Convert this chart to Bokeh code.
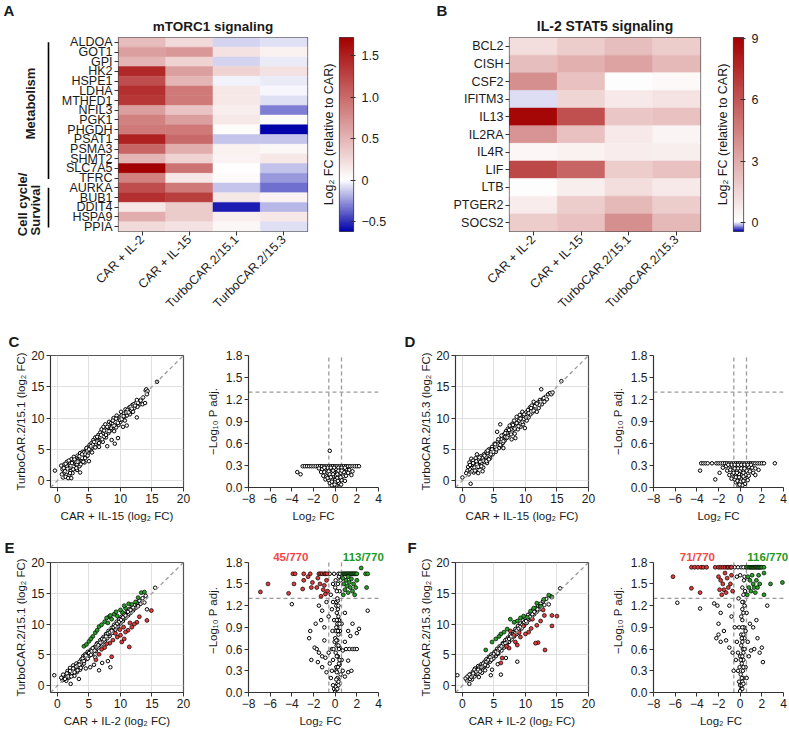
import math
import numpy as np
from bokeh.plotting import figure
from bokeh.layouts import row, column
from bokeh.models import (Range1d, FactorRange, LinearColorMapper, FixedTicker, LinearAxis,
                          Label, NumeralTickFormatter, ColumnDataSource, Slope)
from bokeh.transform import transform
from bokeh.embed import file_html
from bokeh.resources import INLINE

FONT = "Liberation Sans"
TXT = "#1a1a1a"
AX = "#333333"

# ---------------- DATA ----------------
conditions = ["CAR + IL-2", "CAR + IL-15", "TurboCAR.2/15.1", "TurboCAR.2/15.3"]

mtor_genes = ["ALDOA", "GOT1", "GPI", "HK2", "HSPE1", "LDHA", "MTHFD1", "NFIL3", "PGK1", "PHGDH",
              "PSAT1", "PSMA3", "SHMT2", "SLC7A5", "TFRC", "AURKA", "BUB1", "DDIT4", "HSPA9", "PPIA"]
mtor_il2 = [0.45, 0.65, 0.5, 1.45, 1.2, 1.4, 1.35, 0.65, 0.85, 0.9, 1.5, 1.05, 0.5, 1.72, 0.85, 1.2, 1.4, 0.15, 0.55, 0.25]
mtor_il15 = [0.25, 0.7, 0.3, 0.65, 0.5, 0.9, 0.9, 0.4, 0.65, 0.9, 1.0, 0.55, 0.3, 0.95, 0.15, 0.9, 1.3, 0.35, 0.35, 0.2]
mtor_t151 = [-0.1, 0.2, -0.1, 0.3, -0.03, 0.15, 0.15, 0.12, 0.15, 0.02, -0.14, 0.1, 0.08, 0.0, 0.03, -0.14, 0.15, -0.55, 0.12, 0.05]
mtor_t153 = [-0.08, 0.1, -0.05, 0.2, -0.05, -0.02, -0.08, -0.31, 0.03, -0.62, -0.14, 0.05, 0.15, -0.15, -0.25, -0.35, 0.08, -0.18, 0.15, -0.08]
mtor_groups = [("Metabolism", 0, 15), ("Cell cycle/|Survival", 15, 20)]
mtor_lim = (-0.62, 1.72)
mtor_ticks = [-0.5, 0, 0.5, 1.0, 1.5]

stat_genes = ["BCL2", "CISH", "CSF2", "IFITM3", "IL13", "IL2RA", "IL4R", "LIF", "LTB", "PTGER2", "SOCS2"]
stat_il2 = [1.2, 2.3, 4.0, -0.05, 8.8, 3.8, 0.3, 6.5, 0.1, 0.7, 1.8]
stat_il15 = [1.8, 2.8, 2.2, 1.5, 6.2, 2.2, 0.5, 5.5, 0.6, 1.8, 2.2]
stat_t151 = [2.3, 3.3, 0.1, 0.8, 2.0, 0.8, 0.7, 1.8, 1.2, 2.5, 4.0]
stat_t153 = [1.8, 2.5, 0.2, 1.0, 2.2, 0.4, 0.6, 2.2, 0.8, 1.8, 2.5]
stat_lim = (-0.45, 9.05)
stat_ticks = [0, 3, 6, 9]

# scatter C: CAR+IL-15 (x) vs TurboCAR.2/15.1 (y)
c_pts = [(-0.4,1.6),(0.6,2.4),(0.8,1.8),(0.9,0.5),(1.0,1.2),(1.1,2.6),(1.3,0.6),(1.4,1.9),(1.5,3.0),(1.6,1.4),
         (1.7,0.4),(1.8,2.2),(1.9,0.9),(2.0,2.8),(2.1,1.6),(2.2,0.4),(2.2,3.4),(2.3,2.1),(2.4,1.2),(2.5,2.6),
         (2.6,3.8),(2.7,1.9),(2.8,2.9),(2.9,2.4),(3.0,3.3),(3.1,1.7),(3.2,4.0),(3.3,2.8),(3.4,3.5),(3.5,2.3),
         (3.6,1.3),(3.6,4.4),(3.7,3.1),(3.8,3.8),(4.0,4.6),(4.1,3.4),(4.2,4.1),(4.3,2.9),(4.5,4.9),(4.6,3.9),
         (4.8,5.3),(4.9,4.4),(5.0,3.1),(5.1,5.7),(5.3,4.8),(5.4,6.0),(5.5,5.2),(5.7,6.5),(5.8,5.5),(6.0,6.9),
         (6.1,5.9),(6.3,6.4),(6.5,7.3),(6.6,5.4),(6.8,7.7),(6.9,6.6),(7.0,8.2),(7.1,7.1),(7.2,6.2),(7.3,8.6),
         (7.5,7.6),(7.6,9.0),(7.7,6.9),(7.9,5.5),(8.0,8.4),(8.1,7.6),(8.2,9.4),(8.4,8.0),(8.5,9.2),(8.6,6.5),
         (8.7,8.6),(8.9,10.0),(9.0,7.9),(9.1,5.9),(9.2,9.1),(9.3,8.5),(9.4,10.4),(9.5,9.6),(9.6,6.8),(9.7,8.9),
         (9.9,10.2),(10.0,9.4),(10.1,11.0),(10.3,10.0),(10.4,8.6),(10.5,10.7),(10.7,9.6),(10.8,11.4),(11.0,10.4),(11.0,8.8),
         (11.2,11.0),(11.4,11.7),(11.5,10.6),(11.7,11.2),(11.9,12.1),(12.0,11.0),(12.2,11.6),(12.4,12.4),(12.6,10.1),(12.7,11.8),
         (12.9,12.7),(13.1,12.2),(13.3,13.0),(13.5,12.2),(13.6,13.3),(13.9,12.4),(14.0,14.4),(14.1,14.6),(14.3,14.3),(14.2,13.8),(15.8,15.8),
         (1.2,1.5),(1.5,2.3),(1.9,2.0),(2.1,2.4),(2.4,3.0),(2.6,2.2),(2.9,3.1),(3.1,2.6),(3.4,3.0),(3.6,3.6),
         (3.9,3.6),(4.2,4.5),(4.4,4.2),(4.7,4.7),(5.2,5.2),(5.6,5.8),(6.2,6.2),(6.4,6.9),(6.7,7.0),(7.2,7.5),
         (7.4,7.0),(7.8,8.0),(8.3,8.6),(8.8,9.1),(9.1,9.4),(9.8,9.9),(10.2,10.4),(10.6,10.2),(11.1,11.3),(11.6,11.8),
         (12.1,12.2),(12.8,12.4),(13.2,12.8),
         (0.7,1.0),(1.0,2.0),(1.3,2.7),(1.6,1.9),(1.8,3.2),(2.0,1.2),(2.3,2.8),(2.5,1.8),(2.7,3.4),(3.0,2.0),
         (3.2,3.0),(3.5,3.9),(3.7,2.6),(3.9,4.2),(4.1,3.0),(4.4,3.6),(4.6,5.2),(4.8,4.0),(5.0,5.0),(5.3,5.5),
         (5.5,4.5),(5.8,6.2),(6.0,5.3),(6.3,7.0),(6.6,6.0),(6.9,7.3),(7.1,6.6),(7.4,8.0),(7.7,7.3),(7.9,8.6),
         (8.2,7.9),(8.5,8.4),(8.8,9.6),(9.0,8.8),(9.3,9.9),(9.6,9.2),(9.9,9.7),(10.2,9.8),(10.5,10.3),(10.9,10.9),
         (11.3,10.9),(11.8,11.5),(12.3,12.0),(12.6,12.9)]

# scatter D: CAR+IL-15 (x) vs TurboCAR.2/15.3 (y)
d_pts = [(0.0,0.5),(1.1,2.9),(1.3,-0.5),(1.4,3.5),(0.8,1.6),(1.0,1.0),(1.5,2.0),(1.7,3.2),(1.8,1.3),(2.0,2.5),
         (2.1,3.6),(2.2,1.8),(2.4,2.9),(2.5,1.2),(2.6,3.3),(2.7,2.2),(2.9,3.9),(3.0,2.7),(3.1,3.4),(3.3,2.1),
         (3.4,4.2),(3.5,3.0),(3.7,3.7),(3.8,4.6),(3.9,2.8),(4.1,4.1),(4.2,5.0),(4.4,3.6),(4.5,4.6),(4.7,5.4),
         (4.8,4.2),(5.0,5.0),(5.1,5.9),(5.3,4.6),(5.4,5.5),(5.5,7.8),(5.6,6.2),(5.8,5.2),(6.0,9.0),(6.0,6.4),
         (6.1,5.6),(6.3,7.0),(6.4,6.0),(6.6,7.4),(6.7,6.4),(6.9,7.9),(7.0,6.8),(7.2,8.3),(7.3,7.2),(7.5,8.8),
         (7.6,7.6),(7.8,6.6),(7.9,9.1),(8.0,8.1),(8.2,9.6),(8.3,7.5),(8.5,8.8),(8.6,10.2),(8.8,8.2),(8.9,9.5),
         (9.1,10.5),(9.2,8.6),(9.4,9.9),(9.5,11.0),(9.6,9.0),(9.8,10.3),(9.9,8.4),(10.1,10.9),(10.2,9.6),(10.4,11.3),
         (10.5,10.1),(10.7,11.7),(10.8,10.6),(11.0,12.0),(11.1,10.9),(11.3,12.6),(11.4,11.4),(11.6,12.2),(11.8,11.0),(12.0,12.5),
         (12.1,11.6),(12.3,12.9),(12.5,14.6),(12.6,12.2),(12.8,13.0),(13.0,12.6),(13.2,13.4),(13.4,13.0),(13.6,13.8),(13.9,14.0),
         (14.1,13.8),(14.3,14.1),(15.7,15.9),(2.3,4.2),(3.2,1.5),(6.5,5.2),(8.4,6.8),
         (1.2,1.8),(1.6,2.6),(1.9,2.1),(2.3,2.6),(2.8,3.0),(3.2,3.6),(3.6,3.3),(4.0,4.4),(4.3,4.0),(4.6,5.0),
         (5.2,5.4),(5.7,5.8),(6.2,6.6),(6.8,7.0),(7.1,7.6),(7.7,8.2),(8.1,8.6),(8.7,9.0),(9.0,9.6),(9.7,9.8),
         (10.3,10.6),(10.9,11.1),(11.5,11.9),(12.2,12.1),(12.9,13.2),
         (0.6,1.2),(0.9,2.2),(1.2,2.5),(1.5,1.5),(1.7,2.8),(2.0,1.6),(2.2,3.1),(2.5,2.2),(2.7,3.7),(3.0,2.3),
         (3.3,3.2),(3.5,4.0),(3.8,3.1),(4.0,4.8),(4.2,3.4),(4.5,4.2),(4.7,5.0),(4.9,4.6),(5.2,5.8),(5.4,5.0),
         (5.7,6.6),(6.0,5.7),(6.2,7.2),(6.5,6.3),(6.8,7.6),(7.1,6.9),(7.4,8.1),(7.7,7.4),(8.0,8.9),(8.3,8.3),
         (8.6,9.2),(8.9,8.7),(9.2,9.9),(9.5,9.4),(9.8,10.6),(10.1,10.1),(10.5,10.8),(10.9,11.6),(11.3,11.2),(11.8,12.3),(12.4,12.6)]

# scatter E: CAR+IL-2 (x) vs TurboCAR.2/15.1 (y)
e_pts = [(-0.5,1.7),(0.8,0.9),(1.0,1.4),(1.3,1.8),(1.4,0.8),(1.6,2.4),(1.8,1.3),(2.0,2.9),(2.1,0.3),(2.2,1.9),
         (2.4,2.5),(2.5,3.3),(2.7,1.6),(2.8,2.8),(3.0,3.6),(3.1,2.2),(3.2,3.0),(3.4,1.1),(3.5,3.9),(3.6,2.6),
         (3.8,4.3),(3.9,3.3),(4.1,4.8),(4.2,3.6),(4.4,5.1),(4.6,4.3),(4.8,5.5),(5.0,4.8),(5.2,3.0),(5.3,5.8),
         (5.5,5.1),(5.8,3.4),(5.9,6.3),(6.1,5.6),(6.3,6.9),(6.5,6.2),(6.6,2.5),(6.8,7.4),(7.0,6.7),(7.1,3.7),
         (7.3,7.9),(7.5,7.2),(7.7,8.4),(7.9,7.7),(8.1,8.9),(8.3,8.1),(8.4,3.0),(8.6,9.4),(8.8,8.6),(9.0,9.9),
         (9.2,9.1),(9.4,10.4),(9.6,9.6),(9.8,10.8),(10.0,10.1),(10.2,11.2),(10.4,10.5),(10.6,11.6),(10.8,11.0),(11.0,12.0),
         (11.2,11.4),(11.4,12.4),(11.6,11.8),(11.8,12.8),(12.0,12.2),(12.2,13.1),(12.4,12.6),(12.6,13.5),(12.8,12.9),(13.0,13.8),
         (13.2,13.3),(13.5,14.2),(13.8,13.5),(14.2,12.4),(14.0,14.6),(15.5,15.9),(8.0,4.0),(6.0,4.6),(4.5,2.8),
         (1.1,1.1),(1.5,1.6),(1.9,2.2),(2.3,2.1),(2.6,2.9),(2.9,2.4),(3.3,3.4),(3.7,3.5),(4.0,4.0),(4.3,4.6),
         (4.7,4.8),(5.1,5.4),(5.4,5.6),(5.7,6.0),(6.2,6.3),(6.7,6.8),(7.2,7.4),(7.6,7.8),(8.2,8.4),(8.7,9.0),
         (9.3,9.5),(9.9,10.3),(10.5,10.9),(11.3,11.7),(12.1,12.5),
         (0.6,1.3),(0.9,1.8),(1.2,1.1),(1.5,2.0),(1.7,1.5),(2.0,2.4),(2.2,1.5),(2.5,2.8),(2.7,2.2),(3.0,3.1),
         (3.2,2.5),(3.5,3.4),(3.7,2.9),(4.0,4.4),(4.2,4.0),(4.5,4.9),(4.8,4.4),(5.0,5.3),(5.3,5.0),(5.6,6.1),
         (5.9,5.7),(6.2,6.7),(6.5,6.6),(6.8,7.0),(7.1,7.6),(7.4,7.5),(7.7,8.0),(8.0,8.5),(8.3,8.7),(8.6,8.9),
         (8.9,9.5),(9.2,9.7),(9.5,10.1),(9.8,10.4),(10.1,10.7),(10.4,11.1),(10.8,11.4),(11.2,12.0),(11.6,12.3),(12.0,12.7)]
e_red = [(14.9,12.2),(14.2,10.6),(12.6,10.3),(11.4,6.3),(10.6,7.6),(10.2,7.1),(8.6,4.7),(6.1,4.2),(11.8,9.5),(11.2,9.0),
         (10.8,8.7),(10.0,8.2),(9.5,7.9),(9.2,8.5),(8.8,7.4),(8.3,6.9),(7.8,6.8),(7.5,6.2),(12.2,10.0),(11.5,10.2),
         (13.0,11.2),(9.9,9.1),(10.5,9.5),(7.0,5.9),(6.6,5.1)]
e_green = [(13.3,15.1),(13.8,15.2),(11.3,13.3),(10.3,11.9),(8.2,11.2),(6.6,9.6),(5.6,8.0),(4.2,6.4),(5.0,7.2),(6.0,8.6),
           (7.0,9.9),(7.5,10.4),(8.0,10.2),(8.6,10.8),(9.0,11.6),(9.5,11.3),(10.0,12.3),(10.8,12.6),(11.8,13.2),(12.4,13.6),
           (12.8,14.3),(7.8,11.0),(6.3,9.0),(5.3,7.6),(9.3,12.0),(4.6,6.7),(8.4,11.4),(10.6,13.0)]

# scatter F: CAR+IL-2 (x) vs TurboCAR.2/15.3 (y)
f_pts = [(-0.8,1.7),(0.7,0.9),(1.0,1.3),(1.1,0.3),(1.3,1.9),(1.5,1.0),(1.7,2.3),(1.9,1.5),(2.0,2.8),(2.2,1.9),
         (2.3,2.5),(2.5,3.2),(2.6,1.4),(2.8,2.7),(3.0,3.5),(3.1,2.1),(3.3,3.0),(3.5,3.9),(3.6,2.5),(3.8,4.3),
         (4.0,3.2),(4.2,4.7),(4.4,3.9),(4.5,1.7),(4.6,5.1),(4.7,2.6),(4.9,4.4),(5.1,5.5),(5.3,4.8),(5.5,6.0),
         (5.7,5.2),(5.9,6.4),(6.1,1.8),(6.2,5.7),(6.4,6.9),(6.6,6.2),(6.8,7.4),(7.0,6.6),(7.2,7.8),(7.4,7.1),
         (7.6,8.3),(7.8,7.5),(8.0,8.7),(8.2,8.0),(8.4,9.2),(8.6,8.4),(8.7,3.9),(8.8,9.7),(9.0,8.9),(9.2,10.1),
         (9.4,9.3),(9.6,10.6),(9.8,9.8),(10.0,11.0),(10.2,10.2),(10.4,11.5),(10.6,10.7),(10.8,11.8),(11.0,11.1),(11.2,12.3),
         (11.4,11.6),(11.6,12.6),(11.8,12.0),(12.0,13.0),(12.2,12.4),(12.4,13.3),(12.6,12.8),(12.8,13.7),(13.0,13.1),(13.3,14.1),
         (13.7,13.2),(14.0,14.5),(15.5,15.8),(6.9,4.5),(5.6,3.5),
         (1.2,1.1),(1.6,1.7),(2.1,2.2),(2.4,2.0),(2.7,3.0),(3.2,3.3),(3.5,3.2),(3.9,3.8),(4.3,4.3),(4.8,4.9),
         (5.2,5.1),(5.6,5.7),(6.0,6.1),(6.5,6.5),(7.1,7.2),(7.5,7.7),(8.1,8.3),(8.5,8.8),(9.1,9.4),(9.7,10.1),
         (10.3,10.6),(10.9,11.3),(11.5,11.9),
         (0.5,1.2),(0.8,1.5),(1.1,1.8),(1.4,1.4),(1.7,2.0),(1.9,2.6),(2.2,2.3),(2.5,2.6),(2.8,2.3),(3.0,3.0),
         (3.3,3.6),(3.6,3.4),(3.8,3.9),(4.1,4.2),(4.4,4.6),(4.6,4.2),(5.0,5.2),(5.3,5.5),(5.6,5.3),(5.9,6.0),
         (6.2,6.4),(6.5,6.8),(6.8,6.9),(7.1,7.5),(7.4,7.6),(7.7,8.0),(8.0,8.4),(8.3,8.5),(8.6,9.0),(8.9,9.3),
         (9.2,9.6),(9.5,9.9),(9.8,10.3),(10.1,10.5),(10.4,10.9),(10.7,11.2),(11.1,11.6),(11.4,12.0),(11.9,12.4),(12.3,12.9)]
f_red = [(15.0,11.3),(14.2,11.4),(13.0,11.4),(12.8,12.3),(14.2,9.7),(13.1,5.8),(12.0,7.0),(11.6,6.9),(10.5,8.7),(9.2,7.9),
         (8.4,7.1),(7.4,6.1),(6.3,4.5),(6.1,3.7),(7.6,8.9),(8.2,8.2),(9.7,9.7),(11.1,10.8),(11.8,9.8),(8.7,6.6),
         (10.0,8.4),(10.9,9.3),(9.0,8.6),(7.0,6.4),(12.4,10.5)]
f_green = [(13.7,14.7),(14.2,14.4),(12.4,12.9),(11.3,12.6),(8.7,10.5),(6.1,8.4),(3.7,5.8),(7.1,9.2),(8.2,10.3),(9.7,11.3),
           (10.8,12.1),(6.6,8.7),(5.3,7.6),(10.3,11.1),(7.6,10.8),(4.7,7.1),(9.2,11.0),(11.8,13.4),(12.9,14.0),(5.8,8.0)]

# volcano C
cv_pts = [(-3.0,0.29),(-2.8,0.29),(-2.6,0.29),(-2.4,0.29),(-2.2,0.29),(-2.0,0.29),(-1.8,0.29),(-1.6,0.29),(-1.4,0.29),
          (-1.2,0.29),(-1.0,0.29),(-0.8,0.29),(-0.6,0.29),(-0.4,0.29),(-0.2,0.29),(0.0,0.29),(0.2,0.29),(0.4,0.29),
          (0.6,0.29),(0.8,0.29),(1.0,0.29),(1.2,0.29),(1.4,0.29),(1.6,0.29),(1.8,0.29),(2.0,0.29),(2.2,0.29),
          (-0.5,0.50),(-3.5,0.21),(-3.2,0.18),
          (-1.5,0.26),(-1.2,0.25),(-0.9,0.26),(-0.6,0.25),(-0.3,0.26),(0.1,0.25),(0.4,0.26),(0.7,0.25),(1.0,0.25),
          (1.3,0.24),(1.6,0.22),(1.2,0.2),(1.5,0.17),
          (-1.3,0.21),(-1.0,0.21),(-0.7,0.2),(-0.4,0.21),(-0.1,0.2),(0.2,0.21),(0.5,0.2),(0.8,0.21),(1.0,0.16),
          (-1.1,0.16),(-0.8,0.15),(-0.5,0.16),(-0.2,0.15),(0.1,0.16),(0.4,0.15),(0.7,0.15),
          (-0.9,0.11),(-0.6,0.1),(-0.3,0.11),(0.0,0.1),(0.3,0.11),(0.6,0.1),(0.9,0.09),
          (-0.5,0.06),(-0.2,0.06),(0.1,0.05),(0.35,0.06),(0.55,0.04),
          (-0.15,0.02),(0.05,0.01),(0.2,0.02),(-0.3,0.03),
          (-0.7,0.27),(-0.4,0.27),(-0.1,0.27),(0.3,0.27),(0.6,0.27),(0.9,0.27),(-1.0,0.27),(-0.6,0.22),(-0.2,0.23),
          (0.3,0.23),(0.6,0.23),(-0.5,0.18),(-0.2,0.18),(0.2,0.18),(-0.7,0.13),(-0.4,0.14),(0.2,0.13),(0.5,0.14),
          (-0.3,0.08),(0.0,0.07),(0.25,0.09),(0.1,0.03),(-0.05,0.04)]

# volcano D
dv_pts = [(-3.6,0.33),(-3.4,0.33),(-3.2,0.33),(-3.0,0.33),(-2.6,0.33),(-2.2,0.33),(-2.0,0.33),(-1.8,0.33),(-1.6,0.33),
          (-1.4,0.33),(-1.2,0.33),(-1.0,0.33),(-0.8,0.33),(-0.6,0.33),(-0.4,0.33),(-0.2,0.33),(0.0,0.33),(0.2,0.33),
          (0.4,0.33),(0.6,0.33),(0.8,0.33),(1.0,0.33),(1.2,0.33),(1.4,0.33),(1.6,0.33),(1.8,0.33),(2.0,0.33),(2.2,0.33),(3.2,0.33),
          (-3.7,0.23),(-2.3,0.11),(-1.9,0.2),(-1.6,0.27),(-1.3,0.29),(-1.0,0.3),(-0.7,0.29),(-0.4,0.3),(-0.1,0.29),
          (0.2,0.3),(0.5,0.29),(0.8,0.28),(1.1,0.27),(1.4,0.26),(1.7,0.24),
          (-1.2,0.23),(-0.9,0.24),(-0.6,0.23),(-0.3,0.24),(0.0,0.23),(0.3,0.24),(0.6,0.23),(0.9,0.22),(1.2,0.2),(1.4,0.17),
          (-1.0,0.17),(-0.7,0.18),(-0.4,0.17),(-0.1,0.18),(0.2,0.17),(0.5,0.17),(0.8,0.16),
          (-0.8,0.12),(-0.5,0.11),(-0.2,0.12),(0.1,0.11),(0.4,0.12),(0.7,0.1),
          (-0.4,0.07),(-0.1,0.06),(0.2,0.07),(0.45,0.05),
          (-0.15,0.02),(0.05,0.01),(0.2,0.03),
          (-0.8,0.31),(-0.5,0.31),(-0.2,0.31),(0.1,0.31),(0.4,0.31),(0.7,0.31),(1.0,0.31),(-1.1,0.31),(-0.5,0.26),
          (-0.2,0.26),(0.1,0.26),(0.4,0.26),(-0.6,0.2),(-0.3,0.2),(0.3,0.2),(-0.4,0.14),(-0.1,0.14),(0.3,0.15),
          (-0.25,0.09),(0.05,0.08),(0.3,0.09),(-0.05,0.04)]

# volcano E
ev_pts = [(0.0,0.02),(-0.1,0.05),(0.1,0.04),(0.05,0.08),(-0.2,0.1),(0.2,0.12),(-0.4,0.2),(0.3,0.18),(0.5,0.25),
          (-0.3,0.3),(0.1,0.35),(0.7,0.3),(-1.2,0.35),(1.2,0.28),(1.5,0.3),(-0.8,0.28),(0.9,0.22),(-0.5,0.4),(0.4,0.38),
          (-1.9,0.62),(-1.7,0.6),(-1.5,0.55),(-1.2,0.5),(-0.9,0.48),(-0.6,0.55),(-0.3,0.6),(0.2,0.5),(0.4,0.62),
          (0.7,0.58),(1.0,0.6),(1.3,0.6),(1.6,0.6),(1.8,0.6),(2.0,0.6),(-2.4,0.75),(-1.0,0.72),(0.9,0.7),(1.4,0.78),
          (0.0,0.75),(-2.2,0.45),(-1.6,0.42),(1.2,0.44),(0.6,0.45),(-0.2,0.45),
          (-2.3,0.85),(-1.8,0.95),(-1.3,1.0),(-1.0,0.9),(-0.6,1.05),(-0.3,1.15),(0.1,1.2),(0.3,1.05),(0.6,0.95),
          (0.9,1.1),(1.2,0.85),(1.6,0.95),(2.0,0.82),(2.2,0.88),(-1.5,1.2),(-0.8,1.25),(3.0,1.13),(-4.0,1.22),
          (-1.2,1.13),(0.2,0.9),(-0.1,1.0),(0.05,0.85),(0.15,1.1),
          (0.2,0.2),(0.25,0.5),(0.15,0.65),(0.3,0.8),(0.2,0.95),(0.25,1.15),(0.1,0.3),(0.05,0.55),(-0.05,0.7),(0.35,0.4),
          (0.1,1.25),(-0.4,1.35),(-0.2,1.5),(0.3,1.64),(0.4,1.4),(-0.5,1.64),(0.5,1.55),(0.0,1.45),
          (0.3,0.1),(0.15,0.28),(0.35,0.6),(0.2,0.72),(0.1,0.9),(0.35,1.0),(0.25,1.27),(-0.15,0.6),(-0.25,0.85),(0.45,0.85),
          (0.2,0.05),(0.3,0.15),(0.1,0.18),(0.25,0.35),(0.4,0.45),(0.15,0.5),(0.3,0.65),(0.1,0.72),(0.25,0.85),(0.4,0.95),
          (0.15,1.0),(0.3,1.2),(0.2,1.3),(0.15,1.4),(0.25,1.5),(0.35,1.6),(0.45,1.64),(-0.1,1.64),(0.05,1.55),(-0.2,1.25)]
ev_red = [(-3.9,1.64),(-3.7,1.64),(-2.9,1.64),(-2.3,1.64),(-1.5,1.64),(-1.35,1.64),(-1.2,1.64),(-1.0,1.64),(-0.9,1.64),
          (-0.75,1.64),(-6.2,1.5),(-6.9,1.39),(-4.3,1.37),(-3.8,1.5),(-2.9,1.55),(-3.0,1.43),(-2.1,1.52),(-2.2,1.45),
          (-1.7,1.45),(-1.4,1.5),(-1.1,1.42),(-0.9,1.36),(-1.3,1.33),(-0.8,1.55),(-1.6,1.58),(-1.0,1.48),(-0.7,1.4),(-2.5,1.6)]
ev_green = [(0.7,1.64),(0.8,1.64),(0.9,1.64),(1.0,1.64),(1.1,1.64),(1.2,1.64),(1.3,1.64),(1.4,1.64),(1.5,1.64),
            (1.6,1.64),(1.7,1.64),(1.8,1.64),(1.9,1.64),(2.0,1.64),(2.4,1.72),(2.8,1.64),(3.0,1.64),(2.9,1.45),
            (0.7,1.58),(0.8,1.5),(0.9,1.42),(1.0,1.55),(1.1,1.47),(1.2,1.38),(1.3,1.52),(1.4,1.45),(1.5,1.57),
            (1.6,1.4),(1.7,1.5),(1.8,1.35),(2.0,1.55),(0.75,1.35),(1.9,1.45),(1.2,1.6)]

# volcano F
fv_pts = [(-5.8,1.24),(-3.7,1.16),(2.5,1.2),(-2.4,1.23),(-2.1,1.2),(-1.8,1.1),(-2.0,0.95),(-1.5,0.85),(-2.2,0.75),
          (-2.0,0.8),(-1.8,0.7),(-1.3,0.72),(-1.0,0.62),(-0.7,0.55),(-0.4,0.45),(-0.2,0.3),(0.0,0.1),(0.1,0.05),
          (-0.1,0.15),(0.3,0.2),(0.5,0.35),(0.8,0.5),(1.0,0.58),(1.3,0.6),(1.6,0.75),(2.1,0.42),(1.8,0.55),(1.2,0.9),
          (0.9,0.95),(1.5,1.0),(2.0,0.62),(0.6,1.1),(0.3,1.25),(0.2,1.0),(0.1,0.8),(0.25,0.6),(0.15,0.4),(-0.3,0.7),
          (-0.5,0.9),(-0.8,1.05),(-1.0,1.2),(0.4,0.75),(0.0,0.5),(0.35,1.55),(-0.3,1.6),(0.1,1.73),(-0.5,1.73),
          (0.45,1.4),(0.05,0.25),(-0.05,0.35),(0.2,0.15),(0.0,0.02),(0.1,0.65),(-0.1,0.9),(0.2,1.15),(0.3,0.45),
          (-0.2,0.55),(0.5,0.85),(0.7,0.7),(-0.6,0.3),(0.6,0.2),
          (0.15,0.1),(0.25,0.3),(0.05,0.45),(0.3,0.55),(0.15,0.75),(0.35,0.9),(0.1,1.05),(0.4,1.2),(-0.15,1.3),
          (0.2,0.05),(0.3,0.12),(0.15,0.2),(0.3,0.35),(0.2,0.5),(0.4,0.6),(0.2,0.7),(0.3,0.8),(0.2,0.9),(0.3,1.1),
          (0.2,1.25),(0.3,1.35),(0.2,1.45),(0.4,1.6),(0.5,1.73),(0.3,1.73),(-0.2,1.73),(0.0,1.62)]
fv_red = [(-4.5,1.73),(-4.2,1.73),(-3.9,1.73),(-3.6,1.73),(-3.4,1.73),(-3.1,1.73),(-2.3,1.73),(-2.0,1.73),(-1.8,1.73),
          (-1.6,1.73),(-1.4,1.73),(-1.2,1.73),(-1.1,1.73),(-0.9,1.73),(-0.8,1.73),(-6.2,1.6),(-4.5,1.44),(-3.7,1.38),
          (-2.0,1.6),(-1.8,1.55),(-1.6,1.5),(-1.5,1.42),(-1.3,1.38),(-1.1,1.45),(-0.9,1.5),(-0.8,1.62),(-1.9,1.42),
          (-1.7,1.35),(-1.2,1.58),(-0.7,1.4),(-1.4,1.65)]
fv_green = [(0.6,1.73),(0.8,1.73),(0.9,1.73),(1.0,1.73),(1.1,1.73),(1.2,1.73),(1.3,1.73),(1.4,1.73),(1.5,1.73),
            (1.6,1.73),(1.7,1.73),(1.8,1.73),(1.9,1.73),(2.0,1.73),(2.2,1.73),(2.2,1.65),(2.8,1.5),(3.9,1.52),
            (2.2,1.35),(0.7,1.6),(0.8,1.45),(0.9,1.55),(1.0,1.4),(1.1,1.62),(1.2,1.5),(1.3,1.45),(1.4,1.38),
            (1.5,1.55),(1.6,1.45),(1.8,1.5),(0.65,1.35),(1.7,1.62)]

count_E = ("45/770", "113/770")
count_E_x = (-4.1, 2.6)
count_F = ("71/770", "116/770")
count_F_x = (-3.95, 2.55)
FC_CUT = 0.585
P_CUT = 1.3
VX = (-8, 4)
VY = (0, 1.8)

RED_FILL = "#e33b3b"
GREEN_FILL = "#27a327"
RED_TXT = "#f24848"
GREEN_TXT = "#1f9a1f"


# ---------------- HELPERS ----------------
def div_palette(vmin, vmax, n=256):
    neg = (0, 0, 170)
    pos = (163, 0, 0)
    out = []
    for i in range(n):
        v = vmin + (i + 0.5) * (vmax - vmin) / n
        if v < 0:
            t, c = min(1.0, v / vmin), neg
        else:
            t, c = min(1.0, v / vmax), pos
        rgb = [round(255 + (c[k] - 255) * t) for k in range(3)]
        out.append("#%02x%02x%02x" % tuple(rgb))
    return out


def style_axis(ax, size="12px"):
    ax.major_label_text_font = FONT
    ax.major_label_text_font_size = size
    ax.major_label_text_color = TXT
    ax.axis_label_text_font = FONT
    ax.axis_label_text_font_size = "11.5px"
    ax.axis_label_text_font_style = "normal"
    ax.axis_label_text_color = TXT
    ax.axis_line_color = AX
    ax.major_tick_line_color = AX
    ax.minor_tick_line_color = None
    ax.major_tick_out = 4
    ax.major_tick_in = 0


def pixel_fig(width, height):
    # a blank canvas whose data units are pixels, y measured from the bottom
    p = figure(width=width, height=height, x_range=Range1d(0, width), y_range=Range1d(0, height),
               min_border_left=0, min_border_right=0, min_border_top=0, min_border_bottom=0,
               x_axis_location=None, y_axis_location=None, toolbar_location=None,
               output_backend="svg", title=None, frame_align=False)
    p.grid.visible = False
    p.outline_line_color = None
    return p


def add_text(p, txt, x, y, size="13px", bold=True, angle=0.0, align="center", color=TXT):
    p.add_layout(Label(x=x, y=y, text=txt, angle=angle, text_font=FONT, text_font_size=size,
                       text_font_style="bold" if bold else "normal", text_color=color,
                       text_align=align, text_baseline="middle"))


ROW1_H, ROW1_T, ROW1_B = 320, 37, 89
ROW1_FH = ROW1_H - ROW1_T - ROW1_B


def heatmap(genes, cols_vals, lim, width, left, right, title, title_size):
    xs, ys, vs = [], [], []
    for cname, vals in zip(conditions, cols_vals):
        for g, v in zip(genes, vals):
            xs.append(cname); ys.append(g); vs.append(v)
    src = ColumnDataSource(dict(x=xs, y=ys, v=vs))
    mapper = LinearColorMapper(palette=div_palette(*lim), low=lim[0], high=lim[1])
    p = figure(width=width, height=ROW1_H, x_range=FactorRange(*conditions),
               y_range=FactorRange(*genes[::-1]), min_border_left=left, min_border_right=right,
               min_border_top=ROW1_T, min_border_bottom=ROW1_B, toolbar_location=None,
               output_backend="svg", title=title, frame_align=False)
    p.rect(x="x", y="y", width=1, height=1, source=src, fill_color=transform("v", mapper),
           line_color=transform("v", mapper), line_width=0.5)
    p.grid.visible = False
    p.outline_line_color = "#444444"
    p.outline_line_width = 1.2
    p.title.text_font = FONT
    p.title.text_font_size = title_size
    p.title.text_font_style = "bold"
    p.title.text_color = TXT
    p.title.align = "center"
    p.title.standoff = 7
    for ax in p.axis:
        style_axis(ax, "12.5px")
        ax.axis_line_color = None
        ax.major_label_standoff = 2
    p.xaxis.major_label_orientation = math.pi / 4
    return p, mapper


def colorbar(mapper, lim, ticks, width, left, right):
    p = figure(width=width, height=ROW1_H, x_range=Range1d(0, 1), y_range=Range1d(*lim),
               min_border_left=left, min_border_right=right, min_border_top=ROW1_T,
               min_border_bottom=ROW1_B, y_axis_location="right", x_axis_location=None,
               toolbar_location=None, output_backend="svg", title=None, frame_align=False)
    grad = np.linspace(lim[0], lim[1], 400).reshape(-1, 1)
    p.image(image=[grad], x=0, y=lim[0], dw=1, dh=lim[1] - lim[0], color_mapper=mapper)
    p.grid.visible = False
    p.outline_line_color = "#444444"
    p.outline_line_width = 1.2
    ax = p.yaxis[0]
    style_axis(ax, "12.5px")
    ax.ticker = FixedTicker(ticks=ticks)
    ax.major_tick_in = 3
    ax.major_tick_out = 2
    ax.axis_line_color = None
    ax.major_label_standoff = 6
    ax.major_label_overrides = {float(t): (("−" + str(abs(t))) if t < 0 else (str(t) if t != 0 else "0")) for t in ticks}
    lab = LinearAxis(ticker=FixedTicker(ticks=[]), axis_label="Log₂ FC (relative to CAR)")
    style_axis(lab)
    lab.axis_label_text_font_size = "12.5px"
    lab.axis_line_color = None
    lab.major_label_text_font_size = "0px"
    lab.axis_label_standoff = 4
    p.add_layout(lab, "left")
    return p


def set_letter(p, txt, offset, standoff):
    p.title.text = txt
    p.title.align = "left"
    p.title.offset = offset
    p.title.standoff = standoff
    p.title.text_font = FONT
    p.title.text_font_size = "15px"
    p.title.text_font_style = "bold"
    p.title.text_color = TXT


def scatter_fig(width, height, left, right, top, bottom, pts, xlabel, ylabel, reds=None, greens=None):
    p = figure(width=width, height=height, x_range=Range1d(-1.1, 20), y_range=Range1d(-1.1, 20),
               min_border_left=left, min_border_right=right, min_border_top=top, min_border_bottom=bottom,
               toolbar_location=None, output_backend="svg", frame_align=False)
    p.xaxis.ticker = FixedTicker(ticks=[0, 5, 10, 15, 20])
    p.yaxis.ticker = FixedTicker(ticks=[0, 5, 10, 15, 20])
    p.grid.grid_line_color = "#e0e0e0"
    p.grid.grid_line_width = 1
    p.outline_line_color = "#555555"
    p.outline_line_width = 1.2
    for ax in p.axis:
        style_axis(ax)
        ax.major_label_standoff = 2
    p.xaxis.axis_label = xlabel
    p.yaxis.axis_label = ylabel
    p.xaxis.axis_label_standoff = 4
    p.yaxis.axis_label_standoff = 1
    x, y = zip(*pts)
    p.scatter(list(x), list(y), size=3.5, fill_color="white", line_color="black", line_width=1.0)
    for grp, col in ((reds, RED_FILL), (greens, GREEN_FILL)):
        if grp:
            gx, gy = zip(*grp)
            p.scatter(list(gx), list(gy), size=3.9, fill_color=col, line_color="black", line_width=0.7)
    p.add_layout(Slope(gradient=1, y_intercept=0, line_color="#9a9a9a", line_dash="4 3", line_width=1.3))
    return p


def volcano_fig(width, height, left, right, top, bottom, pts, extra_top=0, extra_right=0,
                reds=None, greens=None, counts=None, cx=None):
    fh = height - top - bottom
    fw = width - left - right
    y_end = VY[1] + extra_top * (VY[1] - VY[0]) / (fh - extra_top)
    x_end = VX[1] + extra_right * (VX[1] - VX[0]) / (fw - extra_right)
    p = figure(width=width, height=height, x_range=Range1d(VX[0], x_end), y_range=Range1d(VY[0], y_end),
               min_border_left=left, min_border_right=right, min_border_top=top, min_border_bottom=bottom,
               toolbar_location=None, output_backend="svg", title=None, frame_align=False)
    p.grid.visible = False
    p.outline_line_color = None
    p.xaxis.ticker = FixedTicker(ticks=[-8, -6, -4, -2, 0, 2, 4])
    p.yaxis.ticker = FixedTicker(ticks=[0, 0.3, 0.6, 0.9, 1.2, 1.5, 1.8])
    p.yaxis.formatter = NumeralTickFormatter(format="0.0")
    p.xaxis.major_label_overrides = {-8.0: "−8", -6.0: "−6", -4.0: "−4", -2.0: "−2"}
    p.xaxis.bounds = VX
    p.yaxis.bounds = VY
    for ax in p.axis:
        style_axis(ax)
        ax.major_label_standoff = 2
        ax.axis_line_width = 1.2
    p.xaxis.axis_label = "Log₂ FC"
    p.yaxis.axis_label = "−Log₁₀ P adj."
    p.xaxis.axis_label_standoff = 4
    p.yaxis.axis_label_standoff = 4
    dash = dict(line_color="#9a9a9a", line_dash="4 3", line_width=1.3)
    p.segment(x0=[VX[0]], y0=[P_CUT], x1=[VX[1]], y1=[P_CUT], **dash)
    p.segment(x0=[-FC_CUT, FC_CUT], y0=[VY[0], VY[0]], x1=[-FC_CUT, FC_CUT], y1=[VY[1], VY[1]], **dash)
    x, y = zip(*pts)
    p.scatter(list(x), list(y), size=3.5, fill_color="white", line_color="black", line_width=1.0)
    for grp, col in ((reds, RED_FILL), (greens, GREEN_FILL)):
        if grp:
            gx, gy = zip(*grp)
            p.scatter(list(gx), list(gy), size=3.9, fill_color=col, line_color="black", line_width=0.7)
    if counts:
        ly = VY[1] + 5 * (VY[1] - VY[0]) / (fh - extra_top)
        for txt, xx, col in ((counts[0], cx[0], RED_TXT), (counts[1], cx[1], GREEN_TXT)):
            p.add_layout(Label(x=xx, y=ly, text=txt, text_font=FONT, text_font_size="11.5px",
                               text_font_style="bold", text_color=col, text_align="center",
                               text_baseline="middle"))
    return p


# ---------------- ROW 1: heatmaps ----------------
gA = pixel_fig(58, ROW1_H)
row_h = ROW1_FH / len(mtor_genes)


def ypix(row_pos):
    # row position (0 = top edge of the heatmap) -> pixel y measured from the bottom of the canvas
    return ROW1_H - (ROW1_T + row_pos * row_h)


gx, gy0, gy1 = [], [], []
for name, s, e in mtor_groups:
    gx.append(48); gy0.append(ypix(s + 0.5)); gy1.append(ypix(e - 0.4))
gA.segment(x0=gx, y0=gy0, x1=gx, y1=gy1, line_color="black", line_width=1.6)
name0, s0, e0 = mtor_groups[0]
add_text(gA, name0, 30, ypix((s0 + e0) / 2 - 0.7), angle=math.pi / 2)
name1, s1, e1 = mtor_groups[1]
for k, part in enumerate(name1.split("|")):
    add_text(gA, part, 22 + 13 * k, ypix((s1 + e1) / 2 - 0.3 + 0.6 * k), angle=math.pi / 2)
add_text(gA, "A", 3, ROW1_H - 10, size="15px", align="left")

hA, mapA = heatmap(mtor_genes, [mtor_il2, mtor_il15, mtor_t151, mtor_t153], mtor_lim, 260, 55, 11,
                   "mTORC1 signaling", "13.5px")
cbA = colorbar(mapA, mtor_lim, mtor_ticks, 82, 20, 47)

bB = pixel_fig(50, ROW1_H)
add_text(bB, "B", 36, ROW1_H - 10, size="15px", align="left")
hB, mapB = heatmap(stat_genes, [stat_il2, stat_il15, stat_t151, stat_t153], stat_lim, 262, 55, 12,
                   "IL-2 STAT5 signaling", "14px")
cbB = colorbar(mapB, stat_lim, stat_ticks, 76, 16, 45)

# ---------------- ROW 2: C, D ----------------
R2 = dict(height=205, top=35, bottom=38)
sC = scatter_fig(200, R2["height"], 50, 17, R2["top"], R2["bottom"], c_pts,
                 "CAR + IL-15 (log₂ FC)", "TurboCAR.2/15.1 (log₂ FC)")
set_letter(sC, "C", -42, 11)
vC = volcano_fig(192, R2["height"], 48, 14, R2["top"], R2["bottom"], cv_pts)
sD = scatter_fig(208, R2["height"], 63, 12, R2["top"], R2["bottom"], d_pts,
                 "CAR + IL-15 (log₂ FC)", "TurboCAR.2/15.3 (log₂ FC)")
set_letter(sD, "D", -51, 11)
vD = volcano_fig(188, R2["height"], 53, 5, R2["top"], R2["bottom"], dv_pts)

# ---------------- ROW 3: E, F ----------------
R3 = dict(height=204, top=37, bottom=34)
sE = scatter_fig(200, R3["height"], 50, 17, R3["top"], R3["bottom"], e_pts,
                 "CAR + IL-2 (log₂ FC)", "TurboCAR.2/15.1 (log₂ FC)", e_red, e_green)
set_letter(sE, "E", -46, 13)
vE = volcano_fig(192, R3["height"], 48, 0, R3["top"] - 14, R3["bottom"], ev_pts, extra_top=14,
                 extra_right=14, reds=ev_red, greens=ev_green, counts=count_E, cx=count_E_x)
sF = scatter_fig(208, R3["height"], 63, 12, R3["top"], R3["bottom"], f_pts,
                 "CAR + IL-2 (log₂ FC)", "TurboCAR.2/15.3 (log₂ FC)", f_red, f_green)
set_letter(sF, "F", -48, 13)
vF = volcano_fig(188, R3["height"], 53, 0, R3["top"] - 14, R3["bottom"], fv_pts, extra_top=14,
                 extra_right=5, reds=fv_red, greens=fv_green, counts=count_F, cx=count_F_x)

layout = column(row(gA, hA, cbA, bB, hB, cbB), row(sC, vC, sD, vD), row(sE, vE, sF, vF))

with open("out.html", "w") as fh:
    fh.write(file_html(layout, INLINE))
